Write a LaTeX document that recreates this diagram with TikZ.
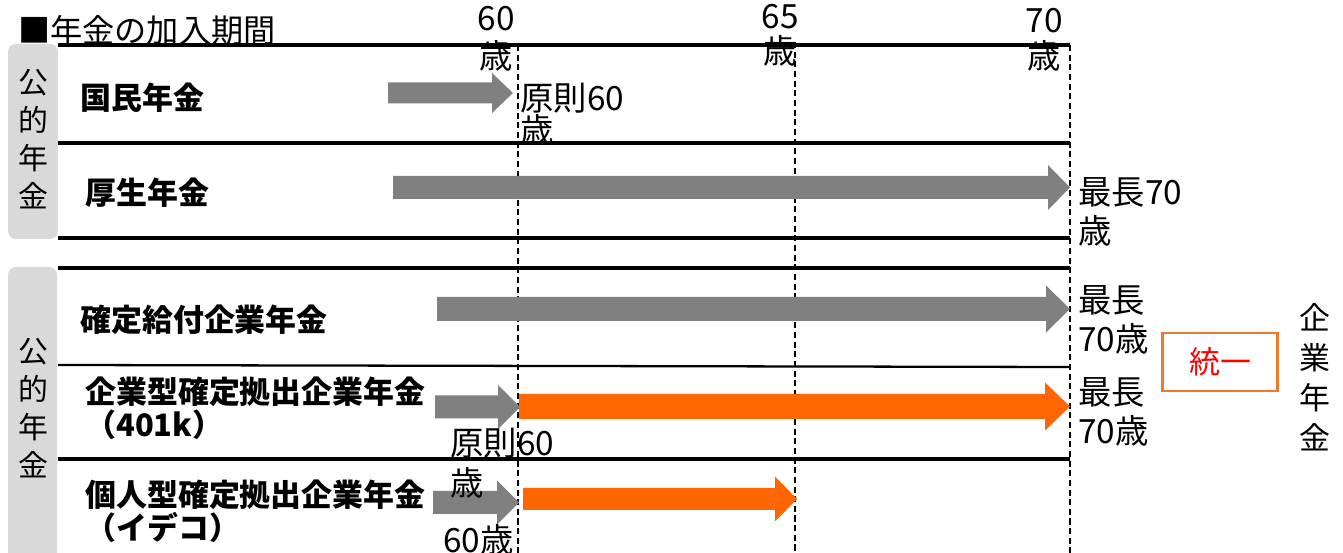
\documentclass[tikz,border=0pt]{standalone}
\usepackage{fontspec}
\setmainfont{Noto Sans CJK JP}
\definecolor{pgray}{HTML}{808080}
\definecolor{porange}{HTML}{FF6600}
\definecolor{boxgray}{HTML}{D9D9D9}
\definecolor{boxorange}{HTML}{F07A2A}
% #1 start x, #2 tip x, #3 centre y, #4 body half height, #5 head half height, #6 head length, #7 colour
\newcommand\pensionarrow[7]{%
  \fill[#7] (#1,{#3-#4}) -- ({#2-#6},{#3-#4}) -- ({#2-#6},{#3-#5}) -- (#2,#3)
    -- ({#2-#6},{#3+#5}) -- ({#2-#6},{#3+#4}) -- (#1,{#3+#4}) -- cycle;}
\begin{document}
\begin{tikzpicture}[x=0.02cm,y=-0.02cm,
  rowline/.style={line width=2pt},
  ageline/.style={line width=0.9pt, dash pattern=on 3.5pt off 2pt},
  lbl/.style={inner sep=0pt, align=left, font=\fontsize{19}{22}\selectfont},
  rowlbl/.style={inner sep=0pt, anchor=west, align=left, font=\fontsize{17.6}{18.7}\selectfont\bfseries},
  sidebox/.style={fill=boxgray, rounded corners=4.5pt},
  vtext/.style={inner sep=0pt, align=center, font=\fontsize{17}{21.5}\selectfont}]
\useasboundingbox (0,0) rectangle (1343,553);

% side boxes
\fill[sidebox] (8,44) rectangle (58,239);
\fill[sidebox] (8,267) rectangle (57,580);
\node[vtext] (pub1) at (33,139) {公\\的\\年\\金};
\node[vtext] (pub2) at (33,408) {公\\的\\年\\金};

% row lines
\draw[rowline] (58,45) -- (1070,45);
\draw[rowline] (58,143) -- (1070,143);
\draw[rowline] (58,238) -- (1070,238);
\draw[rowline] (58,268) -- (1070,268);
\draw[line width=1.3pt] (58,365) -- (1070,367);
\draw[rowline] (58,459) -- (1070,459);

% age lines
\draw[ageline] (518,45) -- (518,553);
\draw[ageline] (795,42) -- (795,553);
\draw[ageline] (1070,45) -- (1070,553);

% arrows
\pensionarrow{388}{513}{93}{10.5}{20}{21}{pgray}
\pensionarrow{393}{1070}{187.5}{11.5}{22.5}{22}{pgray}
\pensionarrow{437}{1070}{309}{12}{23.5}{24}{pgray}
\pensionarrow{435}{520}{407}{11.5}{22}{22}{pgray}
\pensionarrow{519}{1070}{406.5}{12.5}{24}{25}{porange}
\pensionarrow{433}{519}{502.5}{11.5}{22}{22}{pgray}
\pensionarrow{523}{797}{499}{11}{22.5}{22}{porange}

% title and ages
\node[lbl, anchor=west, font=\fontsize{18.3}{22}\selectfont] (title) at (18,30) {■年金の加入期間};
\node[lbl, align=center, font=\fontsize{19}{21.5}\selectfont] (a60) at (496,39) {60\\歳};
\node[lbl, align=center, font=\fontsize{19}{20}\selectfont] (a65) at (780,35) {65\\歳};
\node[lbl, align=center, font=\fontsize{19}{20.5}\selectfont] (a70) at (1044,40) {70\\歳};

% row labels
\node[rowlbl] (kokumin) at (80,98) {国民年金};
\node[rowlbl] (kousei) at (85,193) {厚生年金};
\node[rowlbl] (kakutei) at (80,320) {確定給付企業年金};
\node[rowlbl] (kigyou) at (85,408) {企業型確定拠出企業年金\\（401k）};
\node[rowlbl] (kojin) at (85,511) {個人型確定拠出企業年金\\（イデコ）};

% notes
\node[lbl, anchor=west, font=\fontsize{19}{18}\selectfont] (n1) at (520,114) {原則60\\歳};
\node[lbl, anchor=west] (n2) at (1078,212) {最長70\\歳};
\node[lbl, anchor=west] (n3) at (1078,320) {最長\\70歳};
\node[lbl, anchor=west] (n4) at (1078,412) {最長\\70歳};
\node[lbl, anchor=west, font=\fontsize{19}{23}\selectfont] (n5) at (450,463) {原則60\\歳};
\node[lbl, anchor=west] (n6) at (443,540) {60歳};

% unify box and corporate pension
\node[draw=boxorange, line width=1.2pt, minimum width=2.3cm, minimum height=1.16cm,
  inner sep=0pt, text=red, font=\fontsize{17.6}{22}\selectfont] (touitsu) at (1220,362) {統一};
\node[vtext, font=\fontsize{17.6}{22.7}\selectfont] (corp) at (1315,377) {企\\業\\年\\金};
\end{tikzpicture}
\end{document}
